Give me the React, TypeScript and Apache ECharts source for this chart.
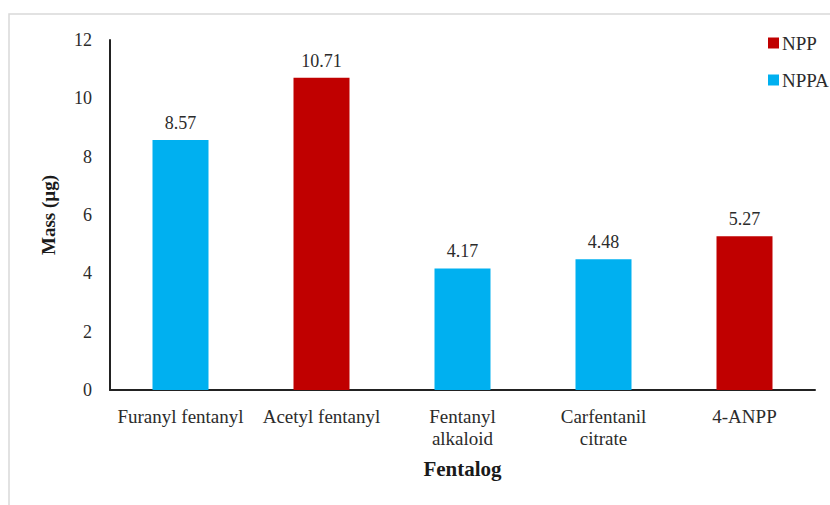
import React, { useEffect, useRef } from "react";
import * as echarts from "echarts";

// Fentalog categories and measured mass (µg) per series
const categories = [
  "Furanyl fentanyl",
  "Acetyl fentanyl",
  "Fentanyl\nalkaloid",
  "Carfentanil\ncitrate",
  "4-ANPP",
];
const nppValues = [null, 10.71, null, null, 5.27];
const nppaValues = [8.57, null, 4.17, 4.48, null];

const yMin = 0;
const yMax = 12;
const yStep = 2;

const RED = "#C00000";
const BLUE = "#00B0F0";
const FONT = "Liberation Serif";
const TEXT = "#2b2b2b";

export default function App() {
  const ref = useRef<HTMLDivElement>(null);

  useEffect(() => {
    if (!ref.current) return;
    const chart = echarts.init(ref.current, undefined, { renderer: "svg" });

    const barLabel = {
      show: true,
      position: "top",
      distance: 8,
      fontFamily: FONT,
      fontSize: 18,
      color: TEXT,
      formatter: (p: any) => (p.value == null ? "" : String(p.value)),
    };

    chart.setOption({
      animation: false,
      backgroundColor: "#ffffff",
      textStyle: { fontFamily: FONT },
      graphic: [
        {
          type: "rect",
          shape: { x: 9, y: 14, width: 900, height: 600 },
          style: { fill: "none", stroke: "#d9d9d9", lineWidth: 1.5 },
          silent: true,
          z: -10,
        },
      ],
      legend: {
        orient: "vertical",
        left: 763,
        top: 28,
        itemWidth: 11,
        itemHeight: 11,
        itemGap: 17,
        icon: "rect",
        textStyle: {
          fontFamily: FONT,
          fontSize: 19,
          color: TEXT,
          lineHeight: 20,
          padding: [0, 0, 0, -2],
        },
        data: ["NPP", "NPPA"],
      },
      grid: { left: 110, right: 15, top: 40, bottom: 115 },
      xAxis: {
        type: "category",
        data: categories,
        name: "Fentalog",
        nameLocation: "middle",
        nameGap: 68,
        nameTextStyle: {
          fontFamily: FONT,
          fontSize: 21,
          fontWeight: "bold",
          color: "#1a1a1a",
        },
        axisLine: { lineStyle: { color: "#222", width: 2 } },
        axisTick: { show: false },
        axisLabel: {
          interval: 0,
          margin: 15,
          fontFamily: FONT,
          fontSize: 19,
          lineHeight: 22,
          color: TEXT,
        },
      },
      yAxis: {
        type: "value",
        min: yMin,
        max: yMax,
        interval: yStep,
        name: "Mass (µg)",
        nameLocation: "middle",
        nameGap: 52,
        nameTextStyle: {
          fontFamily: FONT,
          fontSize: 19,
          fontWeight: "bold",
          color: "#1a1a1a",
        },
        axisLine: { show: true, lineStyle: { color: "#222", width: 2 } },
        axisTick: { show: false },
        splitLine: { show: false },
        axisLabel: {
          margin: 18,
          fontFamily: FONT,
          fontSize: 18,
          color: TEXT,
        },
      },
      series: [
        {
          name: "NPP",
          type: "bar",
          data: nppValues,
          barWidth: 56,
          barGap: "-100%",
          itemStyle: { color: RED },
          label: barLabel,
        },
        {
          name: "NPPA",
          type: "bar",
          data: nppaValues,
          barWidth: 56,
          barGap: "-100%",
          itemStyle: { color: BLUE },
          label: barLabel,
        },
      ],
    });

    return () => chart.dispose();
  }, []);

  return (
    <div
      ref={ref}
      style={{ position: "fixed", left: 0, top: 0, width: 830, height: 505 }}
    />
  );
}
